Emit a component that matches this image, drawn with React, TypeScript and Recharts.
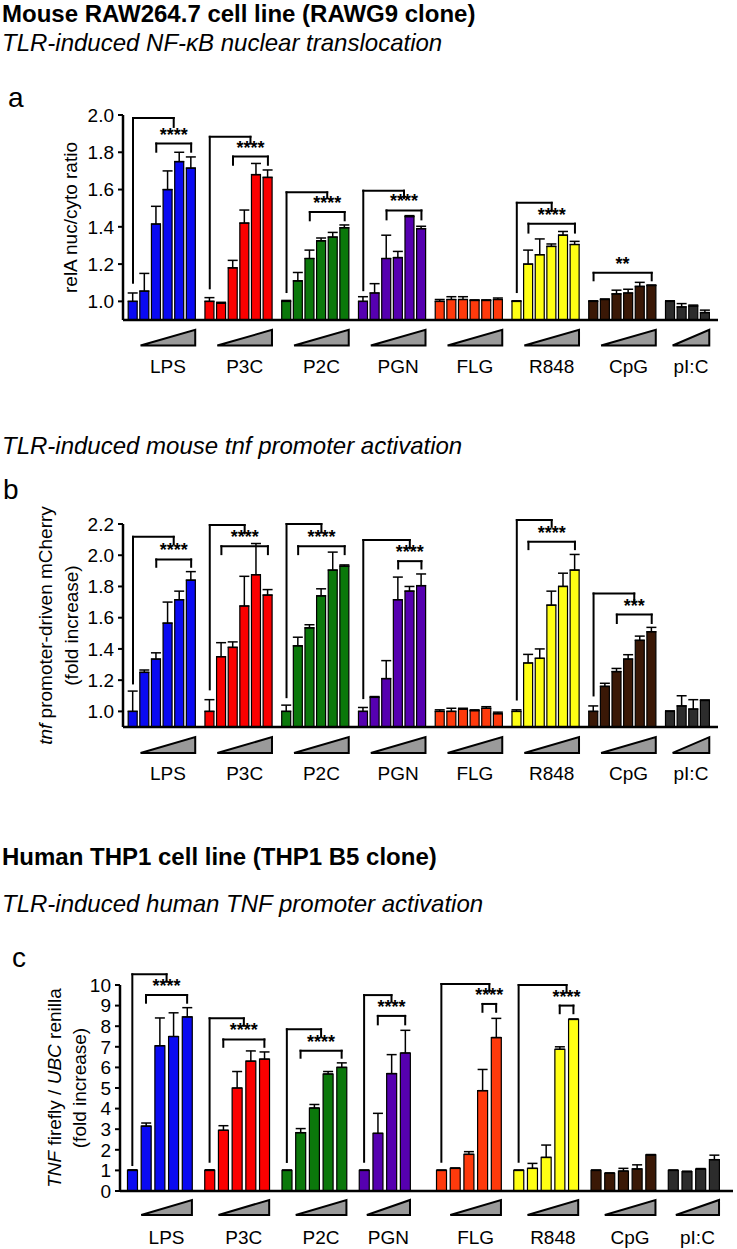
import React from 'react';
import { BarChart, Bar, XAxis, YAxis, ErrorBar, Cell, ReferenceLine, ReferenceArea } from 'recharts';

const FONT = '"Liberation Sans", Arial, Helvetica, sans-serif';

const groups = ['LPS', 'P3C', 'P2C', 'PGN', 'FLG', 'R848', 'CpG', 'pI:C'];
const groupColors = ['#0a0af2', '#fb0000', '#0b780b', '#5600b0', '#ff3a0c', '#ffff14', '#3a1806', '#2c2c2c'];

// a: relA nuc/cyto ratio
const relaMeans = [
  [1.0, 1.055, 1.415, 1.6, 1.75, 1.715],
  [1.0, 0.99, 1.18, 1.42, 1.68, 1.665],
  [1.0, 1.11, 1.23, 1.325, 1.345, 1.395],
  [1.0, 1.045, 1.23, 1.235, 1.455, 1.39],
  [1.0, 1.01, 1.01, 1.005, 1.005, 1.01],
  [1.0, 1.2, 1.25, 1.295, 1.355, 1.305],
  [1.0, 1.01, 1.04, 1.045, 1.08, 1.085],
  [1.0, 0.97, 0.975, 0.94],
];
const relaErrs = [
  [0.045, 0.095, 0.095, 0.1, 0.05, 0.06],
  [0.02, 0.005, 0.04, 0.07, 0.06, 0.04],
  [0.005, 0.045, 0.045, 0.015, 0.025, 0.015],
  [0.025, 0.05, 0.125, 0.033, 0.005, 0.013],
  [0.01, 0.015, 0.015, 0.003, 0.003, 0.008],
  [0.003, 0.075, 0.085, 0.013, 0.02, 0.017],
  [0.003, 0.003, 0.02, 0.02, 0.022, 0.003],
  [0.003, 0.018, 0.005, 0.013],
];

// b: mouse tnf promoter mCherry
const mTnfMeans = [
  [1.0, 1.25, 1.335, 1.565, 1.715, 1.84],
  [1.0, 1.35, 1.41, 1.675, 1.875, 1.745],
  [1.0, 1.42, 1.535, 1.74, 1.905, 1.93],
  [1.0, 1.09, 1.21, 1.715, 1.77, 1.805],
  [1.0, 1.0, 1.015, 1.005, 1.02, 0.985],
  [1.0, 1.31, 1.34, 1.68, 1.8, 1.905],
  [1.0, 1.16, 1.255, 1.335, 1.455, 1.51],
  [1.0, 1.035, 1.015, 1.07],
];
const mTnfErrs = [
  [0.13, 0.015, 0.04, 0.135, 0.055, 0.055],
  [0.075, 0.09, 0.035, 0.19, 0.2, 0.035],
  [0.04, 0.055, 0.02, 0.045, 0.115, 0.008],
  [0.025, 0.005, 0.115, 0.145, 0.03, 0.075],
  [0.01, 0.02, 0.005, 0.005, 0.01, 0.01],
  [0.01, 0.055, 0.06, 0.09, 0.085, 0.1],
  [0.035, 0.02, 0.02, 0.028, 0.027, 0.028],
  [0.003, 0.065, 0.06, 0.003],
];

// c: human TNF firefly / UBC renilla
const hTnfMeans = [
  [1.0, 3.15, 7.05, 7.5, 8.45],
  [1.0, 2.95, 5.0, 6.3, 6.4],
  [1.0, 2.83, 4.03, 5.68, 6.0],
  [1.0, 2.8, 5.7, 6.7],
  [1.0, 1.1, 1.78, 4.87, 7.45],
  [1.0, 1.1, 1.63, 6.88, 8.33],
  [1.0, 0.86, 0.97, 1.07, 1.75],
  [1.0, 0.94, 1.06, 1.52],
];
const hTnfErrs = [
  [0.03, 0.15, 1.35, 1.15, 0.45],
  [0.03, 0.22, 0.8, 0.5, 0.35],
  [0.02, 0.2, 0.17, 0.12, 0.22],
  [0.02, 0.97, 0.92, 1.1],
  [0.02, 0.02, 0.13, 1.03, 0.93],
  [0.02, 0.24, 0.6, 0.12, 0.02],
  [0.02, 0.02, 0.13, 0.2, 0.02],
  [0.02, 0.02, 0.03, 0.22],
];

// significance brackets: outer = [leftBar, leftBottom, top, rightBar, rightBottom], inner = [fromBar, toBar, y, legBottom]
type Bracket = { g: number; outer?: number[]; inner: number[]; stars: string };

const relaBrackets: Bracket[] = [
  { g: 0, outer: [0, 1.1, 1.984, 3.5, 1.936], inner: [2, 5, 1.847, 1.803], stars: '****' },
  { g: 1, outer: [0, 1.07, 1.883, 3.5, 1.847], inner: [2, 5, 1.777, 1.733], stars: '****' },
  { g: 2, outer: [0, 1.05, 1.585, 3.5, 1.555], inner: [2, 5, 1.479, 1.435], stars: '****' },
  { g: 3, outer: [0, 1.06, 1.594, 3.5, 1.555], inner: [2, 5, 1.488, 1.44], stars: '****' },
  { g: 5, outer: [0, 1.05, 1.529, 3, 1.484], inner: [1, 5, 1.417, 1.369], stars: '****' },
  { g: 6, inner: [0, 5, 1.153, 1.113], stars: '**' },
];

const mTnfBrackets: Bracket[] = [
  { g: 0, outer: [0, 1.179, 2.118, 3.5, 2.071], inner: [2, 5, 1.973, 1.926], stars: '****' },
  { g: 1, outer: [0, 1.141, 2.193, 3, 2.14], inner: [1, 5, 2.058, 2.007], stars: '****' },
  { g: 2, outer: [0, 1.091, 2.2, 3, 2.146], inner: [1, 5, 2.058, 2.007], stars: '****' },
  { g: 3, outer: [0, 1.085, 2.097, 4, 2.044], inner: [3, 5, 1.962, 1.915], stars: '****' },
  { g: 5, outer: [0, 1.076, 2.225, 3, 2.182], inner: [1, 5, 2.086, 2.039], stars: '****' },
  { g: 6, outer: [0, 1.102, 1.755, 3.5, 1.705], inner: [2, 5, 1.62, 1.566], stars: '***' },
];

const hTnfBrackets: Bracket[] = [
  { g: 0, outer: [0, 1.26, 10.52, 2.5, 10.16], inner: [1, 4, 9.51, 9.14], stars: '****' },
  { g: 1, outer: [0, 1.42, 8.38, 2.5, 8.02], inner: [1, 4, 7.36, 7.0], stars: '****' },
  { g: 2, outer: [0, 1.41, 7.85, 2.5, 7.49], inner: [1, 4, 6.81, 6.47], stars: '****' },
  { g: 3, outer: [0, 1.42, 9.51, 2, 9.19], inner: [1, 3, 8.5, 8.09], stars: '****' },
  { g: 4, outer: [0, 1.42, 10.05, 3.5, 9.67], inner: [3, 4, 9.08, 8.7], stars: '****' },
  { g: 5, outer: [0, 1.42, 10.0, 3.5, 9.63], inner: [3, 4, 9.0, 8.63], stars: '****' },
];

const buildRows = (means: number[][], errs: number[][], step: number) =>
  means.flatMap((vals, g) =>
    vals.map((v, i) => ({ x: g * step + i, value: v, err: [0, errs[g][i]], fill: groupColors[g] }))
  );

const triRange = (means: number[][], step: number) =>
  means.map((vals, g) => {
    const n = vals.length;
    const start = g * step + (n >= 5 ? 0.65 : 0.2);
    const end = g * step + n - 1 + 0.35;
    return [start, end];
  });

const Triangle = (props: any) => {
  const { x, y, width, height } = props;
  return (
    <path
      d={`M${x},${y + height} L${x + width},${y + height} L${x + width},${y} Z`}
      fill="#9a9a9a"
      stroke="#000"
      strokeWidth={2}
      strokeLinejoin="miter"
    />
  );
};

const makeYLabel = (lines: React.ReactNode[], offsets: number[]) => (props: any) => {
  const vb = props.viewBox || {};
  const cy = vb.y + vb.height / 2;
  const axisX = vb.x + vb.width;
  return (
    <g>
      {lines.map((ln, k) => {
        const cx = axisX - offsets[k];
        return (
          <text
            key={k}
            x={cx}
            y={cy}
            transform={`rotate(-90 ${cx} ${cy})`}
            textAnchor="middle"
            dy="0.35em"
            fontSize={19}
            fontFamily={FONT}
            fill="#000"
          >
            {ln}
          </text>
        );
      })}
    </g>
  );
};

type PanelProps = {
  top: number;
  height: number;
  margin: { top: number; right: number; bottom: number; left: number };
  xAxisHeight: number;
  means: number[][];
  errs: number[][];
  step: number;
  xDomain: number[];
  yDomain: number[];
  yTicks: number[];
  digits: number;
  brackets: Bracket[];
  tri: number[];
  barSize: number;
  yLabel: (p: any) => React.ReactNode;
};

const Panel = (p: PanelProps) => {
  const rows = buildRows(p.means, p.errs, p.step);
  const tris = triRange(p.means, p.step);
  const labelCenters = tris.map(([a, b]) => (a + b) / 2);

  const GroupTick = (props: any) => {
    const { x, y, index } = props;
    return (
      <text x={x} y={y + 53} textAnchor="middle" fontSize={19} fontFamily={FONT} fill="#000">
        {groups[index]}
      </text>
    );
  };

  const lines: React.ReactNode[] = [];
  p.brackets.forEach((b, k) => {
    const x0 = b.g * p.step;
    const segs: number[][][] = [];
    if (b.outer) {
      const [l, lb, tp, r, rb] = b.outer;
      segs.push([[x0 + l, lb], [x0 + l, tp]], [[x0 + l, tp], [x0 + r, tp]], [[x0 + r, tp], [x0 + r, rb]]);
    }
    const [f, t, yy, yb] = b.inner;
    segs.push([[x0 + f, yb], [x0 + f, yy]], [[x0 + t, yy], [x0 + t, yb]]);
    segs.forEach((s, j) =>
      lines.push(
        <ReferenceLine
          key={`b${k}-${j}`}
          segment={[{ x: s[0][0], y: s[0][1] }, { x: s[1][0], y: s[1][1] }]}
          stroke="#000"
          strokeWidth={2}
          strokeLinecap="square"
          ifOverflow="visible"
        />
      )
    );
    lines.push(
      <ReferenceLine
        key={`b${k}-top`}
        segment={[{ x: x0 + f, y: yy }, { x: x0 + t, y: yy }]}
        stroke="#000"
        strokeWidth={2}
        strokeLinecap="square"
        ifOverflow="visible"
        label={{ value: b.stars, position: 'top', offset: 3, fontSize: 18, fontWeight: 'bold', fill: '#000', fontFamily: FONT }}
      />
    );
  });

  return (
    <div style={{ position: 'absolute', left: 0, top: p.top }}>
      <BarChart width={737} height={p.height} data={rows} margin={p.margin}>
        <XAxis
          type="number"
          dataKey="x"
          domain={p.xDomain}
          allowDataOverflow
          ticks={labelCenters}
          interval={0}
          tick={GroupTick}
          tickLine={false}
          tickSize={0}
          tickMargin={0}
          height={p.xAxisHeight}
          axisLine={{ stroke: '#000', strokeWidth: 2.5 }}
        />
        <YAxis
          type="number"
          domain={p.yDomain}
          allowDataOverflow
          ticks={p.yTicks}
          interval={0}
          width={50}
          tickSize={5}
          tickMargin={4}
          tickFormatter={(v: number) => v.toFixed(p.digits)}
          tick={{ fontSize: 19, fill: '#000', fontFamily: FONT }}
          tickLine={{ stroke: '#000', strokeWidth: 2 }}
          axisLine={{ stroke: '#000', strokeWidth: 2.5 }}
          label={p.yLabel}
        />
        {tris.map(([a, b], g) => (
          <ReferenceArea
            key={`t${g}`}
            x1={a}
            x2={b}
            y1={p.tri[0]}
            y2={p.tri[1]}
            ifOverflow="visible"
            shape={Triangle}
          />
        ))}
        {lines}
        <Bar dataKey="value" barSize={p.barSize} stroke="#000" strokeWidth={1.2} isAnimationActive={false}>
          {rows.map((r, i) => (
            <Cell key={i} fill={r.fill} />
          ))}
          <ErrorBar dataKey="err" direction="y" width={5} stroke="#000" strokeWidth={1.5} />
        </Bar>
      </BarChart>
    </div>
  );
};

const textStyle = (top: number, size: number, extra: React.CSSProperties = {}): React.CSSProperties => ({
  position: 'absolute',
  left: 2,
  top: top - 0.846 * size,
  fontSize: size,
  lineHeight: `${size}px`,
  fontFamily: FONT,
  whiteSpace: 'nowrap',
  color: '#000',
  ...extra,
});

export default function App() {
  return (
    <div style={{ position: 'absolute', left: 0, top: 0, width: 737, height: 1249, background: '#fff', overflow: 'hidden' }}>
      <div style={textStyle(22, 24, { fontWeight: 'bold' })}>Mouse RAW264.7 cell line (RAWG9 clone)</div>
      <div style={textStyle(51, 24, { fontStyle: 'italic' })}>TLR-induced NF-κB nuclear translocation</div>
      <div style={textStyle(108, 28, { left: 8 })}>a</div>

      <Panel
        top={100}
        height={290}
        margin={{ top: 15, right: 19, bottom: 10, left: 73 }}
        xAxisHeight={60}
        means={relaMeans}
        errs={relaErrs}
        step={6.6}
        xDomain={[-0.86, 50.3]}
        yDomain={[0.9, 2.0]}
        yTicks={[1.0, 1.2, 1.4, 1.6, 1.8, 2.0]}
        digits={1}
        brackets={relaBrackets}
        tri={[0.763, 0.847]}
        barSize={9}
        yLabel={makeYLabel(['relA nuc/cyto ratio'], [53])}
      />

      <div style={textStyle(454, 24, { fontStyle: 'italic' })}>TLR-induced mouse tnf promoter activation</div>
      <div style={textStyle(500, 28, { left: 3 })}>b</div>

      <Panel
        top={495}
        height={302}
        margin={{ top: 29, right: 19, bottom: 10, left: 73 }}
        xAxisHeight={60}
        means={mTnfMeans}
        errs={mTnfErrs}
        step={6.6}
        xDomain={[-0.86, 50.3]}
        yDomain={[0.9, 2.2]}
        yTicks={[1.0, 1.2, 1.4, 1.6, 1.8, 2.0, 2.2]}
        digits={1}
        brackets={mTnfBrackets}
        tri={[0.734, 0.835]}
        barSize={9}
        yLabel={makeYLabel(
          [
            <>
              <tspan fontStyle="italic">tnf</tspan> promoter-driven mCherry
            </>,
            '(fold increase)',
          ],
          [78, 52]
        )}
      />

      <div style={textStyle(865, 24, { fontWeight: 'bold' })}>Human THP1 cell line (THP1 B5 clone)</div>
      <div style={textStyle(912, 24, { fontStyle: 'italic' })}>TLR-induced human TNF promoter activation</div>
      <div style={textStyle(968, 28, { left: 12 })}>c</div>

      <Panel
        top={970}
        height={279}
        margin={{ top: 15, right: 4, bottom: 3, left: 70 }}
        xAxisHeight={55}
        means={hTnfMeans}
        errs={hTnfErrs}
        step={5.64}
        xDomain={[-0.9, 43.85]}
        yDomain={[0, 10]}
        yTicks={[0, 1, 2, 3, 4, 5, 6, 7, 8, 9, 10]}
        digits={0}
        brackets={hTnfBrackets}
        tri={[-1.165, -0.437]}
        barSize={10}
        yLabel={makeYLabel(
          [
            <>
              <tspan fontStyle="italic">TNF</tspan> firefly / <tspan fontStyle="italic">UBC</tspan> renilla
            </>,
            '(fold increase)',
          ],
          [66, 41]
        )}
      />
    </div>
  );
}
